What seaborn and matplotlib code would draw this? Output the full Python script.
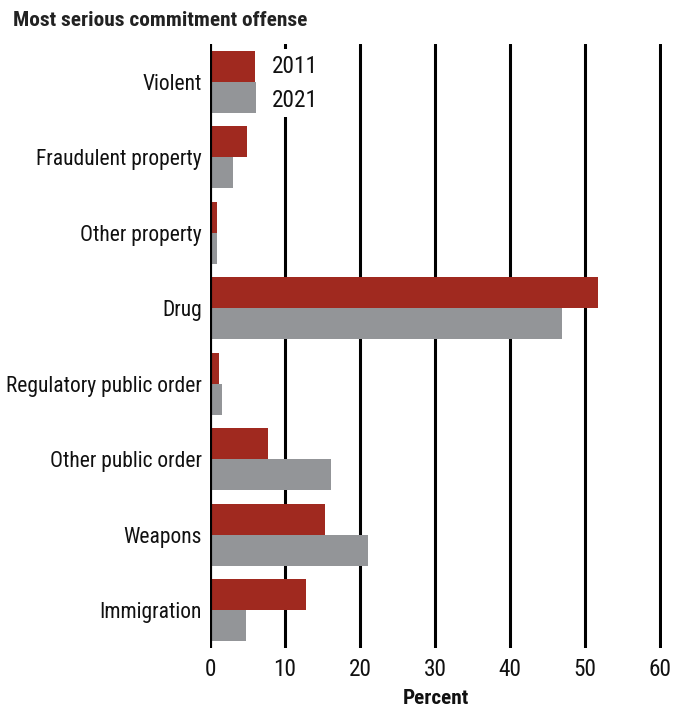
import matplotlib
matplotlib.use("Agg")
import matplotlib.pyplot as plt
from matplotlib import font_manager as fm
import seaborn as sns
import pandas as pd

categories = ["Violent", "Fraudulent property", "Other property", "Drug",
              "Regulatory public order", "Other public order", "Weapons", "Immigration"]
years = ["2011", "2021"]
values_2011 = [6.0, 4.9, 1.0, 51.7, 1.2, 7.7, 15.4, 12.8]
values_2021 = [6.2, 3.1, 0.9, 47.0, 1.6, 16.2, 21.1, 4.8]
x_ticks = [0, 10, 20, 30, 40, 50, 60]

df = pd.DataFrame({
    "Offense": categories * 2,
    "Year": [years[0]] * len(categories) + [years[1]] * len(categories),
    "Percent": values_2011 + values_2021,
})

# pick a condensed font if one is installed
names = sorted({(f.name, f.stretch) for f in fm.fontManager.ttflist})
fam, stretch = None, "normal"
for pref in ["Liberation Sans Narrow", "Roboto Condensed", "Open Sans Condensed",
             "DejaVu Sans Condensed", "Noto Sans Condensed"]:
    if any(n == pref for n, _ in names):
        fam = pref
        break
if fam is None:
    for n, st in names:
        if "Narrow" in n or "Condensed" in n:
            fam = n
            break
if fam is None:
    for n, st in names:
        if n in ("DejaVu Sans", "Noto Sans", "Open Sans", "Roboto") and st in ("condensed", "semi-condensed", 600, 700):
            fam, stretch = n, "condensed"
            break
if fam is None:
    fam = "Roboto"

sns.set_theme(style="white")
FONT = [fam, "DejaVu Sans"]
plt.rcParams["font.family"] = FONT
plt.rcParams["font.stretch"] = stretch

fig = plt.figure(figsize=(6.73, 7.08), dpi=100)
renderer = fig.canvas.get_renderer()

def fit_size(text, target_px, weight="normal"):
    t = fig.text(0, 0, text, fontsize=10, fontweight=weight, fontstretch=stretch)
    w = t.get_window_extent(renderer=renderer).width
    t.remove()
    return 10 * target_px / w

lab_fs = fit_size("Regulatory public order", 196)
tick_fs = lab_fs * 1.08
title_fs = fit_size("Most serious commitment offense", 294, "bold")
xl_fs = fit_size("Percent", 66, "bold")

ax = fig.add_axes([210/673, 60/708, 452/673, 604/708])

palette = {"2011": "#A0291F", "2021": "#939598"}
sns.barplot(data=df, y="Offense", x="Percent", hue="Year", order=categories,
            hue_order=years, palette=palette, width=0.82, saturation=1,
            orient="h", ax=ax, legend=False, zorder=3, linewidth=0)

for t in x_ticks[1:]:
    ax.axvline(t, color="black", lw=2.2, zorder=1)
ax.axvline(0, color="black", lw=3, zorder=5)

ax.set_xlim(0, 60.3)
ax.set_ylim(7.5, -0.5)
ax.set_xticks(x_ticks)
ax.set_xticklabels([str(t) for t in x_ticks], fontsize=tick_fs, color="#111111")
ax.tick_params(axis="x", length=0, pad=7)
ax.tick_params(axis="y", length=0, pad=6, labelsize=lab_fs, labelcolor="#111111")
for s in ax.spines.values():
    s.set_visible(False)
ax.set_ylabel("")
ax.set_xlabel("Percent", fontsize=xl_fs, fontweight="bold", color="#111111", labelpad=6)

fig.text(13/673, 1 - 20/708, "Most serious commitment offense", fontsize=title_fs,
         fontweight="bold", color="#222222", ha="left", va="center")

ax.text(8.2, 0.02, years[0] + "\n" + years[1], fontsize=tick_fs, color="#111111",
        ha="left", va="center", linespacing=1.6, zorder=6,
        bbox=dict(facecolor="white", edgecolor="none", pad=4))

fig.savefig("out.png", dpi=100, facecolor="white")
